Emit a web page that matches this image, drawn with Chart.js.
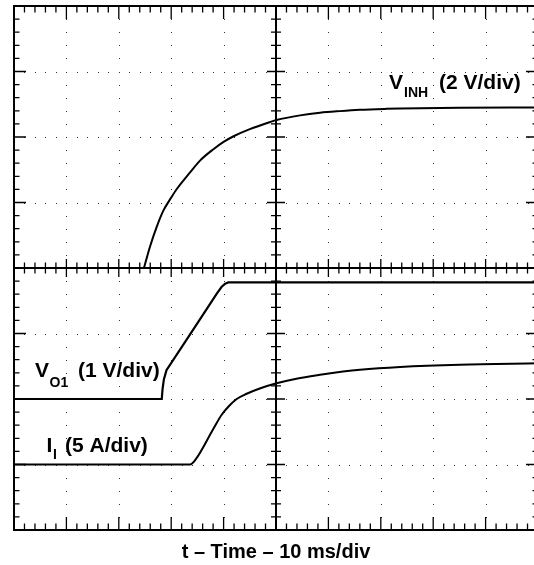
<!DOCTYPE html>
<html>
<head>
<meta charset="utf-8">
<script src="https://cdn.jsdelivr.net/npm/chart.js@4.4.1/dist/chart.umd.min.js"></script>
<style>
html, body { margin: 0; padding: 0; overflow: hidden; background: #fff; width: 534px; height: 565px; }
#wrap { width: 538px; height: 565px; }
</style>
</head>
<body>
<div id="wrap"><canvas id="c" width="538" height="565"></canvas></div>
<script>
// Horizontal: time in ms (10 ms/div, 10 divisions). Vertical: 8 divisions.
const xTitle = 't – Time – 10 ms/div';
const timeMin = 0, timeMax = 100, msPerDiv = 10, minorPerDiv = 5;
const divMin = 0, divMax = 8;

// V_INH trace (volts, 2 V/div, zero at division 4)
const vinhTime  = [24.8, 25.95, 27.2, 28.5, 30.0, 31.1, 33.6, 35.5, 38.0, 40.0, 42.0, 45.0, 48.9, 50.1, 54.6, 58.4, 62.2, 66.0, 71.1, 73.7, 85.1, 100];
const vinhVolts = [0, 0.65, 1.24, 1.75, 2.15, 2.42, 2.92, 3.28, 3.62, 3.85, 4.03, 4.24, 4.46, 4.52, 4.66, 4.74, 4.79, 4.83, 4.86, 4.87, 4.89, 4.90];

// V_O1 trace (volts, 1 V/div, zero at division 2)
const vo1Time  = [0, 28.2, 28.35, 28.6, 29.1, 34.2, 38.7, 39.6, 40.3, 40.9, 100];
const vo1Volts = [0, 0, 0.15, 0.3, 0.44, 1.06, 1.61, 1.71, 1.76, 1.78, 1.78];

// I_I trace (amps, 5 A/div, zero at division 1)
const iiTime = [0, 33.6, 34.6, 38.0, 39.6, 40.9, 42.5, 44.4, 46.9, 50.1, 53.9, 58.4, 62.8, 66.0, 73.7, 85.1, 100];
const iiAmps = [0, 0, 0.35, 2.69, 3.78, 4.41, 5.0, 5.4, 5.8, 6.2, 6.55, 6.85, 7.1, 7.24, 7.45, 7.62, 7.72];

// channel settings: [units per division, zero-level division]
const vinhScale = [2, 4];
const vo1Scale  = [1, 2];
const iiScale   = [5, 1];

function toPoints(times, vals, sc) {
  return times.map((t, i) => ({ x: t, y: sc[1] + vals[i] / sc[0] }));
}

const FONT = '"Liberation Sans", Arial, Helvetica, sans-serif';

const scopeGrid = {
  id: 'scopeGrid',
  beforeDatasetsDraw(chart) {
    const { ctx, chartArea: a, scales: { x, y } } = chart;
    ctx.save();
    // dotted graticule
    ctx.fillStyle = '#333';
    const nx = (timeMax - timeMin) / msPerDiv, ny = divMax - divMin;
    for (let i = 1; i < nx; i++) {
      if (i === nx / 2) continue;
      const px = Math.round(x.getPixelForValue(timeMin + i * msPerDiv));
      for (let j = 0; j <= ny * minorPerDiv; j++) {
        const py = Math.round(y.getPixelForValue(divMin + j / minorPerDiv));
        ctx.fillRect(px, py, 1, 1);
      }
    }
    for (let j = 1; j < ny; j++) {
      if (j === ny / 2) continue;
      const py = Math.round(y.getPixelForValue(divMin + j));
      for (let i = 0; i <= nx * minorPerDiv; i++) {
        const px = Math.round(x.getPixelForValue(timeMin + i * msPerDiv / minorPerDiv));
        ctx.fillRect(px, py, 1, 1);
      }
    }
    ctx.strokeStyle = '#000';
    // center axes
    const cx = x.getPixelForValue((timeMin + timeMax) / 2);
    const cy = y.getPixelForValue((divMin + divMax) / 2);
    ctx.lineWidth = 2;
    ctx.beginPath();
    ctx.moveTo(a.left, cy); ctx.lineTo(a.right, cy);
    ctx.moveTo(cx, a.top); ctx.lineTo(cx, a.bottom);
    ctx.stroke();
    // ticks
    ctx.lineWidth = 1.3;
    ctx.beginPath();
    for (let i = 1; i < nx * minorPerDiv; i++) {
      const px = x.getPixelForValue(timeMin + i * msPerDiv / minorPerDiv);
      const major = i % minorPerDiv === 0;
      const L = major ? 13 : 6.5, C = major ? 9 : 5.5;
      ctx.moveTo(px, a.top); ctx.lineTo(px, a.top + L);
      ctx.moveTo(px, a.bottom); ctx.lineTo(px, a.bottom - L);
      ctx.moveTo(px, cy - C); ctx.lineTo(px, cy + C);
    }
    for (let j = 1; j < ny * minorPerDiv; j++) {
      const py = y.getPixelForValue(divMin + j / minorPerDiv);
      const major = j % minorPerDiv === 0;
      const L = major ? 12 : 5.5, C = major ? 9 : 5;
      ctx.moveTo(a.left, py); ctx.lineTo(a.left + L, py);
      ctx.moveTo(a.right, py); ctx.lineTo(a.right - L, py);
      ctx.moveTo(cx - C, py); ctx.lineTo(cx + C, py);
    }
    ctx.stroke();
    // border
    ctx.lineWidth = 2;
    ctx.strokeRect(a.left, a.top, a.right - a.left, a.bottom - a.top);
    ctx.restore();
  },
  afterDatasetsDraw(chart) {
    const { ctx } = chart;
    ctx.save();
    ctx.fillStyle = '#000';
    ctx.textBaseline = 'alphabetic';
    ctx.textAlign = 'left';
    const big = 'bold 21px ' + FONT, small = 'bold 14px ' + FONT;
    function label(x0, base, main, sub, rest, subX, restX, subDrop) {
      ctx.font = big; ctx.fillText(main, x0, base);
      ctx.font = small; ctx.fillText(sub, subX, base + subDrop);
      ctx.font = big; ctx.fillText(rest, restX, base);
    }
    label(389, 89, 'V', 'INH', '(2 V/div)', 404, 439, 7.5);
    label(35, 377, 'V', 'O1', '(1 V/div)', 49.5, 78, 9.5);
    label(46.5, 451.5, 'I', 'I', '(5 A/div)', 53, 65, 7);
    ctx.restore();
  }
};

const smooth = { borderColor: '#000', pointRadius: 0, fill: false, cubicInterpolationMode: 'monotone' };
const straight = { borderColor: '#000', pointRadius: 0, fill: false, tension: 0 };

new Chart(document.getElementById('c'), {
  type: 'line',
  data: {
    datasets: [
      Object.assign({ label: 'V_INH (2 V/div)', data: toPoints(vinhTime, vinhVolts, vinhScale), borderWidth: 2 }, smooth),
      Object.assign({ label: 'V_O1 (1 V/div)', data: toPoints(vo1Time, vo1Volts, vo1Scale), borderWidth: 2.2 }, straight),
      Object.assign({ label: 'I_I (5 A/div)', data: toPoints(iiTime, iiAmps, iiScale), borderWidth: 2 }, smooth)
    ]
  },
  options: {
    responsive: false,
    animation: false,
    events: [],
    layout: { padding: { left: 14, top: 6, right: 0, bottom: 0 }, autoPadding: false },
    plugins: { legend: { display: false }, tooltip: { enabled: false } },
    scales: {
      x: {
        type: 'linear', min: timeMin, max: timeMax,
        grid: { display: false, drawTicks: false },
        border: { display: false },
        ticks: { display: false },
        title: {
          display: true, text: xTitle, color: '#000',
          font: { family: FONT, size: 20, weight: 'bold', lineHeight: 1 },
          padding: { top: 12, bottom: 3 }
        }
      },
      y: { type: 'linear', min: divMin, max: divMax, display: false }
    }
  },
  plugins: [scopeGrid]
});
</script>
</body>
</html>
